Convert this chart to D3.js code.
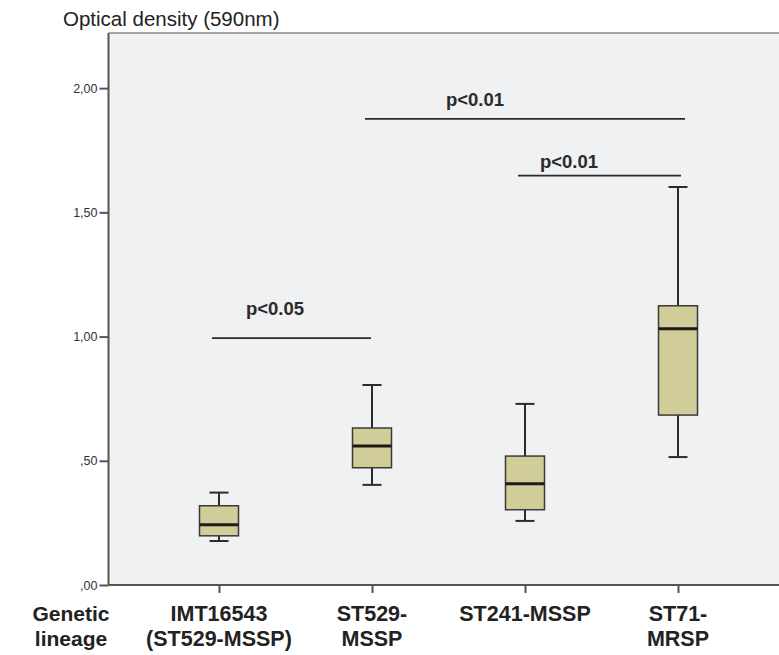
<!DOCTYPE html>
<html><head><meta charset="utf-8">
<script src="https://cdn.jsdelivr.net/npm/d3@7"></script>
<style>body{margin:0;background:#fff}svg{display:block}</style>
</head><body>
<script>
const categories = [["IMT16543","(ST529-MSSP)"],["ST529-","MSSP"],["ST241-MSSP"],["ST71-","MRSP"]];
const whiskerLow  = [0.177, 0.403, 0.258, 0.515];
const q1          = [0.198, 0.472, 0.303, 0.684];
const median      = [0.243, 0.560, 0.408, 1.031];
const q3          = [0.319, 0.632, 0.519, 1.124];
const whiskerHigh = [0.372, 0.805, 0.729, 1.602];
const yTicks = [0, 0.5, 1.0, 1.5, 2.0];
const yTickLabels = [",00", ",50", "1,00", "1,50", "2,00"];
const sigLabels = ["p<0.05", "p<0.01", "p<0.01"];
const sigFrom = [0, 1, 2];
const sigTo = [1, 3, 3];
const sigLevel = [0.994, 1.876, 1.648];

const W = 779, H = 655;
const svg = d3.select("body").append("svg").attr("width", W).attr("height", H);
const pLeft = 108.5, pTop = 33, pBottom = 585;
const y = d3.scaleLinear().domain([0, 2.222]).range([pBottom, pTop]);
const x = d3.scaleLinear().domain([0, 3]).range([219, 678]);
const font = "Liberation Sans, Arial, sans-serif";

// plot background
svg.append("rect").attr("x", pLeft).attr("y", pTop).attr("width", W - pLeft).attr("height", pBottom - pTop).attr("fill", "#f0f1f3");
svg.append("line").attr("x1", pLeft).attr("x2", W).attr("y1", pTop).attr("y2", pTop).attr("stroke", "#8a8a8a").attr("stroke-width", 1.5);

// y axis
const yAxis = svg.append("g").attr("transform", `translate(${pLeft},0)`)
  .call(d3.axisLeft(y).tickValues(yTicks).tickSize(9).tickSizeOuter(0).tickPadding(2).tickFormat((d, i) => yTickLabels[i]));
yAxis.select(".domain").attr("d", `M0,${pBottom}V${pTop}`).attr("stroke", "#555").attr("stroke-width", 2);
yAxis.selectAll(".tick line").attr("stroke", "#555").attr("stroke-width", 2);
yAxis.selectAll("text").attr("font-family", font).attr("font-size", 12.5).attr("fill", "#333");

// x axis
const xAxis = svg.append("g").attr("transform", `translate(0,${pBottom})`)
  .call(d3.axisBottom(x).tickValues([0,1,2,3]).tickSize(8).tickSizeOuter(0).tickFormat(""));
xAxis.select(".domain").attr("d", `M${pLeft},0H${W}`).attr("stroke", "#555").attr("stroke-width", 2);
xAxis.selectAll(".tick line").attr("stroke", "#555").attr("stroke-width", 2);

// boxes
const data = categories.map((c, i) => ({i, lo: whiskerLow[i], q1: q1[i], med: median[i], q3: q3[i], hi: whiskerHigh[i]}));
const boxW = 39, capW = 19;
const g = svg.append("g");
data.forEach(d => {
  const cx = x(d.i);
  g.append("line").attr("x1", cx).attr("x2", cx).attr("y1", y(d.hi)).attr("y2", y(d.q3)).attr("stroke", "#2b2b2b").attr("stroke-width", 2);
  g.append("line").attr("x1", cx).attr("x2", cx).attr("y1", y(d.q1)).attr("y2", y(d.lo)).attr("stroke", "#2b2b2b").attr("stroke-width", 2);
  g.append("line").attr("x1", cx - capW/2).attr("x2", cx + capW/2).attr("y1", y(d.hi)).attr("y2", y(d.hi)).attr("stroke", "#2b2b2b").attr("stroke-width", 2);
  g.append("line").attr("x1", cx - capW/2).attr("x2", cx + capW/2).attr("y1", y(d.lo)).attr("y2", y(d.lo)).attr("stroke", "#2b2b2b").attr("stroke-width", 2);
  g.append("rect").attr("x", cx - boxW/2).attr("y", y(d.q3)).attr("width", boxW).attr("height", y(d.q1) - y(d.q3))
    .attr("fill", "#d0cd99").attr("stroke", "#3a3a3a").attr("stroke-width", 1.5);
  g.append("line").attr("x1", cx - boxW/2).attr("x2", cx + boxW/2).attr("y1", y(d.med)).attr("y2", y(d.med)).attr("stroke", "#1e1a18").attr("stroke-width", 3);
});

// significance bars
const sigLabelX = [275, 475, 569];
const sigLabelGap = [23, 13, 8];
sigLabels.forEach((lab, k) => {
  const yy = y(sigLevel[k]);
  const x1 = x(sigFrom[k]) - 7, x2 = x(sigTo[k]) + (k === 0 ? -1 : (k === 1 ? 7 : 3));
  svg.append("line").attr("x1", x1).attr("x2", x2).attr("y1", yy).attr("y2", yy).attr("stroke", "#2b2b2b").attr("stroke-width", 1.8);
  svg.append("text").attr("x", sigLabelX[k]).attr("y", yy - sigLabelGap[k])
    .attr("text-anchor", "middle").attr("font-family", font).attr("font-weight", "bold")
    .attr("font-size", 18.5).attr("fill", "#2b2b2b").text(lab);
});

// axis title
svg.append("text").attr("x", 63).attr("y", 26).attr("font-family", font)
  .attr("font-size", 20.5).attr("fill", "#222").text("Optical density (590nm)");

// category labels
categories.forEach((lines, i) => {
  const t = svg.append("text").attr("text-anchor", "middle").attr("font-family", font).attr("font-weight", "bold")
    .attr("font-size", 21.5).attr("fill", "#222");
  lines.forEach((ln, j) => t.append("tspan").attr("x", x(i)).attr("y", 621 + j * 24.5).text(ln));
});
const gl = svg.append("text").attr("text-anchor", "middle").attr("font-family", font).attr("font-weight", "bold")
  .attr("font-size", 21).attr("fill", "#222");
["Genetic", "lineage"].forEach((ln, j) => gl.append("tspan").attr("x", 71).attr("y", 621 + j * 24.5).text(ln));
</script>
</body></html>
